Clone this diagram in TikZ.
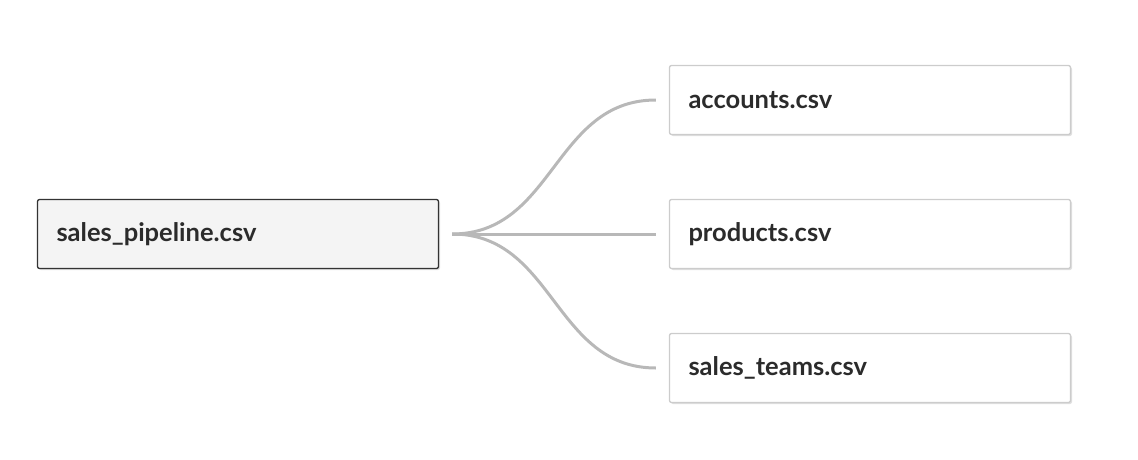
\documentclass[tikz,border=0pt]{standalone}
\usepackage{fontspec}
\setmainfont{Lato}
\usetikzlibrary{shadows}
\definecolor{linegray}{HTML}{B8B8B8}
\definecolor{boxgray}{HTML}{F4F4F4}
\definecolor{txt}{HTML}{2B2B2B}
\tikzset{
  filebox/.style={draw=#1, line width=1.3pt, rounded corners=2pt, minimum width=401pt, minimum height=69pt,
    text width=363pt, align=left, inner xsep=19pt, font=\fontsize{25.5}{30}\selectfont\bfseries, text=txt,
    drop shadow={shadow xshift=1.5pt, shadow yshift=-1.5pt, opacity=0.25, fill=gray}},
  conn/.style={draw=linegray, line width=3pt}
}
\begin{document}
\begin{tikzpicture}[x=1pt,y=-1pt]
\useasboundingbox (0,0) rectangle (1138,460);
\node[filebox=black!80, fill=boxgray] (src) at (238,234) {sales\_pipeline.csv};
\node[filebox=black!20, fill=white] (acc) at (870,100) {accounts.csv};
\node[filebox=black!20, fill=white] (prod) at (870,234) {products.csv};
\node[filebox=black!20, fill=white] (team) at (870,368) {sales\_teams.csv};
\coordinate (s) at ([xshift=13pt]src.east);
\draw[conn] (s) .. controls ++(102,0) and ([xshift=-115pt]acc.west) .. ([xshift=-13pt]acc.west);
\draw[conn] (s) -- ([xshift=-13pt]prod.west);
\draw[conn] (s) .. controls ++(102,0) and ([xshift=-115pt]team.west) .. ([xshift=-13pt]team.west);
\end{tikzpicture}
\end{document}
